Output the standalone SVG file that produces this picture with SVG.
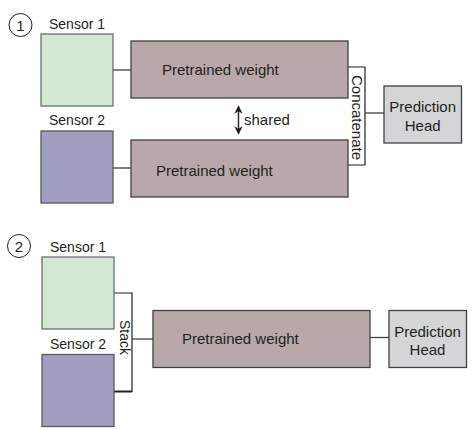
<svg xmlns="http://www.w3.org/2000/svg" width="476" height="430" viewBox="0 0 476 430">
<style>
text{font-family:"Liberation Sans",Arial,sans-serif;fill:#231f20;}
.lbl{font-size:14px;}
.big{font-size:15px;}
.s1{fill:#d2e8d3;stroke:#6d6e71;stroke-width:1.3;}
.s2{fill:#a09fc0;stroke:#58595b;stroke-width:1.3;}
.pw{fill:#b8a8aa;stroke:#414042;stroke-width:1.3;}
.ph{fill:#d4d5d7;stroke:#414042;stroke-width:1.3;}
.ln{fill:none;stroke:#414042;stroke-width:1.3;}
.br{fill:none;stroke:#231f20;stroke-width:1.2;}
.num{fill:none;stroke:#231f20;stroke-width:1;}
</style>
<defs>
<marker id="ah" viewBox="0 0 10 10" refX="8" refY="5" markerWidth="6" markerHeight="6" orient="auto-start-reverse">
<path d="M0,0 L10,5 L0,10 L3,5 z" fill="#231f20"/>
</marker>
</defs>
<g id="connectors">
<line class="ln" x1="113" y1="70" x2="131" y2="70"/>
<line class="ln" x1="113" y1="168" x2="131" y2="168"/>
<polyline class="br" points="348,67 365,67 365,165 348,165"/>
<line class="ln" x1="365" y1="113" x2="384" y2="113"/>
<line stroke="#231f20" stroke-width="1.4" x1="238.5" y1="107" x2="238.5" y2="133" marker-start="url(#ah)" marker-end="url(#ah)"/>
<text class="big" x="244" y="125">shared</text>
<text class="big" x="357" y="117.5" text-anchor="middle" dominant-baseline="central" transform="rotate(90 357 117.5)">Concatenate</text>
<polyline class="br" points="114,293 132,293 132,391.5 114,391.5"/>
<line stroke="#231f20" stroke-width="2" x1="114" y1="391.5" x2="132" y2="391.5"/>
<line class="ln" x1="132" y1="339" x2="153" y2="339"/>
<line class="ln" x1="370" y1="337.5" x2="389" y2="337.5"/>
<text class="lbl" x="124.5" y="337.5" text-anchor="middle" dominant-baseline="central" transform="rotate(90 124.5 337.5)">Stack</text>
</g>
<g id="num1"><circle class="num" cx="20.5" cy="25" r="11.5"/><text class="big" x="20.5" y="30.5" text-anchor="middle">1</text></g>
<g id="p1-sensor1"><text class="lbl" x="77" y="29" text-anchor="middle">Sensor 1</text><rect class="s1" x="41" y="34" width="72" height="72"/></g>
<g id="p1-sensor2"><text class="lbl" x="77" y="125" text-anchor="middle">Sensor 2</text><rect class="s2" x="41" y="131" width="72" height="72"/></g>
<g id="p1-pw1"><rect class="pw" x="131" y="41" width="217" height="57"/><text class="big" x="162" y="75">Pretrained weight</text></g>
<g id="p1-pw2"><rect class="pw" x="131" y="140" width="217" height="57"/><text class="big" x="156" y="176">Pretrained weight</text></g>
<g id="p1-head"><rect class="ph" x="384" y="86" width="77.5" height="57"/><text class="big" x="422.7" y="111.5" text-anchor="middle">Prediction</text><text class="big" x="422.7" y="130.5" text-anchor="middle">Head</text></g>
<g id="num2"><circle class="num" cx="19" cy="246" r="11.5"/><text class="big" x="19" y="251.5" text-anchor="middle">2</text></g>
<g id="p2-sensor1"><text class="lbl" x="78" y="251.5" text-anchor="middle">Sensor 1</text><rect class="s1" x="42" y="257" width="72" height="72"/></g>
<g id="p2-sensor2"><text class="lbl" x="78" y="349" text-anchor="middle">Sensor 2</text><rect class="s2" x="42" y="354.5" width="72" height="72"/></g>
<g id="p2-pw"><rect class="pw" x="153" y="310.5" width="217" height="57"/><text class="big" x="182" y="343.5">Pretrained weight</text></g>
<g id="p2-head"><rect class="ph" x="389" y="310.5" width="77.5" height="57"/><text class="big" x="427.5" y="336.5" text-anchor="middle">Prediction</text><text class="big" x="427.5" y="355" text-anchor="middle">Head</text></g>
</svg>
